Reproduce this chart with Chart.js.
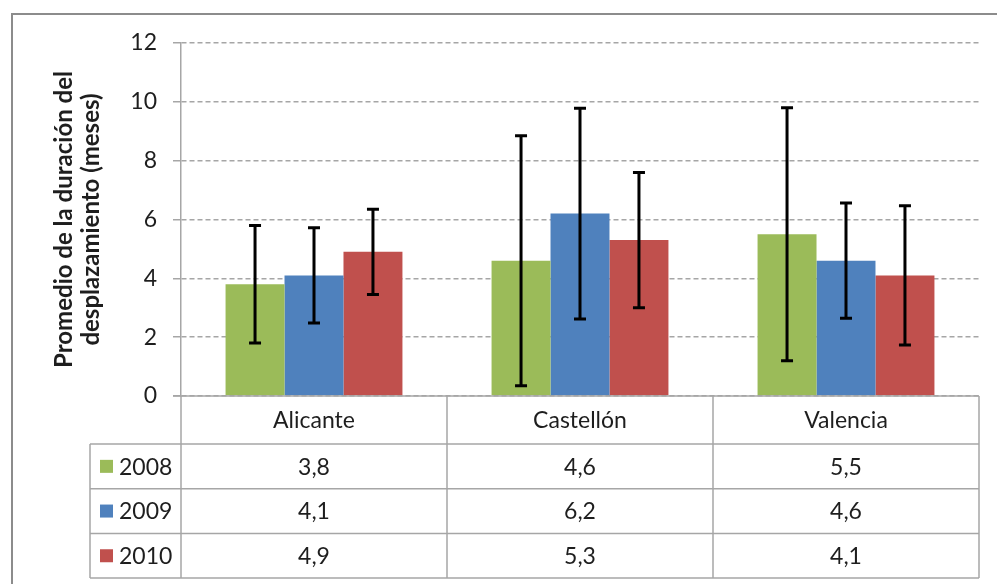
<!DOCTYPE html>
<html>
<head>
<meta charset="utf-8">
<script src="https://cdn.jsdelivr.net/npm/chart.js@4"></script>
<style>
html,body{margin:0;padding:0;background:#fff;}
#wrap{width:997px;height:584px;position:relative;}
</style>
</head>
<body>
<div id="wrap"><canvas id="c" width="997" height="584"></canvas></div>
<script>
const categories = ['Alicante', 'Castellón', 'Valencia'];
const seriesNames = ['2008', '2009', '2010'];
const values2008 = [3.8, 4.6, 5.5];
const values2009 = [4.1, 6.2, 4.6];
const values2010 = [4.9, 5.3, 4.1];
const err2008 = [2.0, 4.25, 4.3];
const err2009 = [1.62, 3.58, 1.96];
const err2010 = [1.45, 2.3, 2.37];
const tableLabels2008 = ['3,8', '4,6', '5,5'];
const tableLabels2009 = ['4,1', '6,2', '4,6'];
const tableLabels2010 = ['4,9', '5,3', '4,1'];
const yTicks = [0, 2, 4, 6, 8, 10, 12];
const yTitle = ['Promedio de la duración del', 'desplazamiento (meses)'];

const colors = ['#9BBB59', '#4F81BD', '#C0504D'];
const seriesValues = [values2008, values2009, values2010];
const seriesErrors = [err2008, err2009, err2010];
const tableLabels = [tableLabels2008, tableLabels2009, tableLabels2010];
const FONT = 'Lato';
const TEXT = '#1e1e1e';
const LINE = '#a6a6a6';

const errorBarPlugin = {
  id: 'errorBars',
  afterDatasetsDraw(chart) {
    const ctx = chart.ctx;
    const y = chart.scales.y;
    ctx.save();
    ctx.strokeStyle = '#000';
    ctx.lineWidth = 3;
    chart.data.datasets.forEach((ds, di) => {
      const meta = chart.getDatasetMeta(di);
      meta.data.forEach((bar, i) => {
        const v = ds.data[i], e = ds.errors[i];
        const yt = y.getPixelForValue(v + e), yb = y.getPixelForValue(v - e);
        const x = bar.x;
        ctx.beginPath();
        ctx.moveTo(x, yt); ctx.lineTo(x, yb);
        ctx.moveTo(x - 6, yt); ctx.lineTo(x + 6, yt);
        ctx.moveTo(x - 6, yb); ctx.lineTo(x + 6, yb);
        ctx.stroke();
      });
    });
    ctx.restore();
  }
};

const tablePlugin = {
  id: 'dataTable',
  afterDraw(chart) {
    const ctx = chart.ctx;
    const area = chart.chartArea;
    const xs = chart.scales.x;
    const n = categories.length;
    const colW = (area.right - area.left) / n;
    const top = area.bottom;
    const catBottom = top + 48;
    const rowH = 44.7;
    const tableLeft = 90;
    const bottom = catBottom + rowH * 3;
    ctx.save();
    ctx.strokeStyle = LINE;
    ctx.lineWidth = 1.5;
    ctx.beginPath();
    ctx.moveTo(area.left - 8, top); ctx.lineTo(area.right, top);
    for (let i = 0; i <= n; i++) {
      const x = area.left + colW * i;
      ctx.moveTo(x, top); ctx.lineTo(x, bottom);
    }
    ctx.moveTo(tableLeft, catBottom); ctx.lineTo(tableLeft, bottom);
    for (let r = 0; r <= 3; r++) {
      const yy = catBottom + rowH * r;
      ctx.moveTo(tableLeft, yy); ctx.lineTo(area.right, yy);
    }
    ctx.stroke();
    ctx.fillStyle = TEXT;
    ctx.font = '23px ' + FONT;
    ctx.textAlign = 'center';
    ctx.textBaseline = 'middle';
    categories.forEach((c, i) => {
      ctx.fillText(c, xs.getPixelForValue(i), (top + catBottom) / 2 + 1);
    });
    for (let r = 0; r < 3; r++) {
      const yy = catBottom + rowH * r + rowH / 2 + 1;
      ctx.textAlign = 'center';
      ctx.fillStyle = TEXT;
      tableLabels[r].forEach((t, i) => ctx.fillText(t, xs.getPixelForValue(i), yy));
      ctx.fillStyle = colors[r];
      ctx.fillRect(100, yy - 7.5, 13, 13);
      ctx.fillStyle = TEXT;
      ctx.textAlign = 'left';
      ctx.fillText(seriesNames[r], 119, yy);
    }
    ctx.fillStyle = '#8c8c8c';
    ctx.fillRect(11, 13, 2, 584 - 13);
    ctx.fillRect(11, 13, 997 - 11, 2);
    ctx.restore();
  }
};

new Chart(document.getElementById('c'), {
  type: 'bar',
  data: {
    labels: categories,
    datasets: seriesNames.map((name, k) => ({
      label: name,
      data: seriesValues[k],
      errors: seriesErrors[k],
      backgroundColor: colors[k],
      borderWidth: 0,
      barPercentage: 1,
      categoryPercentage: 0.665
    }))
  },
  options: {
    responsive: false,
    animation: false,
    devicePixelRatio: 1,
    layout: { padding: { top: 43, right: 18, bottom: 188, left: 0 } },
    plugins: { legend: { display: false }, tooltip: { enabled: false } },
    scales: {
      x: {
        ticks: { display: false },
        grid: { display: false },
        border: { display: false },
        afterFit(s) { s.height = 0; }
      },
      y: {
        min: 0, max: 12,
        afterFit(s) { s.width = 181; },
        afterBuildTicks(s) { s.ticks = yTicks.map(v => ({ value: v })); },
        ticks: {
          padding: 16,
          color: TEXT,
          font: { family: FONT, size: 23 }
        },
        grid: { color: LINE, lineWidth: 1.5, tickLength: 8 },
        border: { display: true, color: LINE, width: 1.5, dash: [5, 3] },
        title: {
          display: true,
          text: yTitle,
          color: TEXT,
          font: { family: FONT, size: 24, weight: 'bold', lineHeight: 1.125 },
          padding: { top: 51, bottom: 0 }
        }
      }
    }
  },
  plugins: [errorBarPlugin, tablePlugin]
});
</script>
</body>
</html>
